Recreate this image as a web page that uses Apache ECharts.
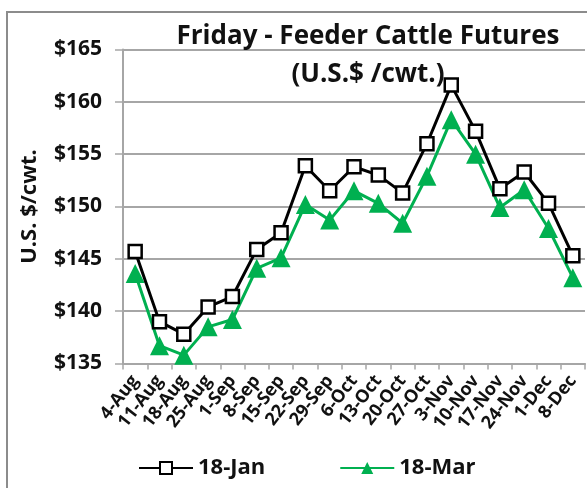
<!DOCTYPE html>
<html>
<head>
<meta charset="utf-8">
<style>
  html, body { margin: 0; padding: 0; background: #fff; }
  #chart { width: 587px; height: 488px; }
</style>
<script src="https://cdn.jsdelivr.net/npm/echarts@6/dist/echarts.min.js"></script>
</head>
<body>
<div id="chart"></div>
<script>
const weeks = ["4-Aug", "11-Aug", "18-Aug", "25-Aug", "1-Sep", "8-Sep", "15-Sep", "22-Sep", "29-Sep",
  "6-Oct", "13-Oct", "20-Oct", "27-Oct", "3-Nov", "10-Nov", "17-Nov", "24-Nov", "1-Dec", "8-Dec"];
const jan18 = [145.7, 139.0, 137.8, 140.4, 141.4, 145.9, 147.5, 153.9, 151.5, 153.8,
  153.0, 151.3, 156.0, 161.6, 157.2, 151.7, 153.3, 150.3, 145.3];
const mar18 = [143.6, 136.7, 135.8, 138.5, 139.2, 144.1, 145.1, 150.2, 148.7, 151.5,
  150.3, 148.4, 152.9, 158.3, 155.0, 149.9, 151.6, 147.9, 143.2];
const yTicks = { min: 135, max: 165, step: 5 };

const font = '"Open Sans", "Liberation Sans", sans-serif';
const chart = echarts.init(document.querySelector("#chart"));

chart.setOption({
  backgroundColor: "#fff",
  animation: false,
  graphic: [
    {
      type: "rect",
      shape: { x: 7, y: 12, width: 600, height: 500 },
      style: { fill: "none", stroke: "#8c8c8c", lineWidth: 2 },
      silent: true,
    },
  ],
  title: [
    {
      text: "Friday - Feeder Cattle Futures",
      left: 363, top: 19, textAlign: "center",
      textStyle: { fontFamily: font, fontSize: 26, fontWeight: "bold", color: "#111" },
    },
    {
      text: "(U.S.$ /cwt.)",
      left: 363, top: 57, textAlign: "center",
      textStyle: { fontFamily: font, fontSize: 26, fontWeight: "bold", color: "#111" },
    },
  ],
  legend: {
    top: 452, left: 133,
    itemGap: 74, itemWidth: 54, itemHeight: 15,
    textStyle: { fontFamily: font, fontSize: 22, fontWeight: "bold", color: "#111" },
    data: ["18-Jan", "18-Mar"],
  },
  grid: { left: 123, right: 2, top: 49.5, bottom: 124.5 },
  xAxis: {
    type: "category",
    data: weeks,
    axisLine: { lineStyle: { color: "#a6a6a6", width: 2 } },
    axisTick: { show: true, length: 6, lineStyle: { color: "#a6a6a6", width: 1.5 } },
    axisLabel: {
      rotate: 52, interval: 0, margin: 14,
      fontFamily: font, fontSize: 18, fontWeight: "bold", color: "#111",
    },
  },
  yAxis: {
    type: "value",
    min: yTicks.min, max: yTicks.max, interval: yTicks.step,
    name: "U.S. $/cwt.",
    nameLocation: "middle", nameGap: 82, nameRotate: 90,
    nameTextStyle: { fontFamily: font, fontSize: 22, fontWeight: "bold", color: "#111" },
    axisLine: { show: true, lineStyle: { color: "#a6a6a6", width: 2 } },
    axisTick: { show: true, length: 8, lineStyle: { color: "#a6a6a6", width: 1.5 } },
    axisLabel: {
      margin: 21,
      fontFamily: font, fontSize: 21, fontWeight: "bold", color: "#111",
      formatter: (v) => "$" + v,
    },
    splitLine: { lineStyle: { color: "#a6a6a6", width: 2 } },
  },
  series: [
    {
      name: "18-Jan",
      type: "line",
      data: jan18,
      symbol: "rect",
      symbolSize: 13,
      lineStyle: { color: "#000", width: 3 },
      itemStyle: { color: "#fff", borderColor: "#000", borderWidth: 2.5 },
      z: 3,
    },
    {
      name: "18-Mar",
      type: "line",
      data: mar18,
      symbol: "triangle",
      symbolSize: 19,
      lineStyle: { color: "#00b050", width: 3 },
      itemStyle: { color: "#00b050" },
      z: 2,
    },
  ],
});
</script>
</body>
</html>
